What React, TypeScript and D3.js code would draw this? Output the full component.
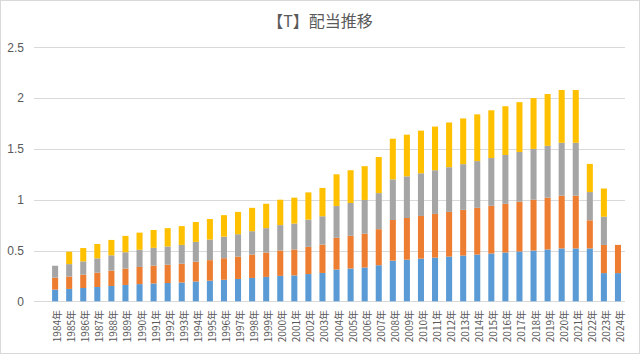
import React from "react";
import * as d3 from "d3";

const title = "【T】配当推移";
const years = [
  "1984年","1985年","1986年","1987年","1988年","1989年","1990年","1991年","1992年","1993年",
  "1994年","1995年","1996年","1997年","1998年","1999年","2000年","2001年","2002年","2003年",
  "2004年","2005年","2006年","2007年","2008年","2009年","2010年","2011年","2012年","2013年",
  "2014年","2015年","2016年","2017年","2018年","2019年","2020年","2021年","2022年","2023年","2024年",
];
// quarterly dividends (stacked: Q1 blue, Q2 orange, Q3 gray, Q4 yellow)
const q1 = [0.115,0.122,0.131,0.141,0.151,0.161,0.169,0.1755,0.18,0.185,0.195,0.2025,0.212,0.22,0.23,0.24,0.25,0.255,0.268,0.279,0.3125,0.3225,0.3325,0.355,0.40,0.41,0.42,0.43,0.44,0.45,0.46,0.47,0.48,0.49,0.50,0.51,0.52,0.52,0.52,0.2775,0.2775];
const q2 = [0.118,0.122,0.131,0.141,0.151,0.161,0.169,0.1755,0.18,0.185,0.195,0.2025,0.212,0.22,0.23,0.24,0.25,0.255,0.268,0.279,0.3125,0.3225,0.3325,0.355,0.40,0.41,0.42,0.43,0.44,0.45,0.46,0.47,0.48,0.49,0.50,0.51,0.52,0.52,0.2775,0.2775,0.2775];
const q3 = [0.117,0.122,0.131,0.141,0.151,0.161,0.169,0.1755,0.18,0.185,0.195,0.2025,0.212,0.22,0.23,0.24,0.25,0.255,0.268,0.279,0.3125,0.3225,0.3325,0.355,0.40,0.41,0.42,0.43,0.44,0.45,0.46,0.47,0.48,0.49,0.50,0.51,0.52,0.52,0.2775,0.2775,0];
const q4 = [0,0.122,0.131,0.141,0.151,0.161,0.169,0.1755,0.18,0.185,0.195,0.2025,0.212,0.22,0.23,0.24,0.25,0.255,0.268,0.279,0.3125,0.3225,0.3325,0.355,0.40,0.41,0.42,0.43,0.44,0.45,0.46,0.47,0.48,0.49,0.50,0.51,0.52,0.52,0.2775,0.2775,0];
const yTicks = [0, 0.5, 1, 1.5, 2, 2.5];
const seriesKeys = ["q1", "q2", "q3", "q4"];
const colors = ["#5B9BD5", "#ED7D31", "#A5A5A5", "#FFC000"];

export default function App() {
  const W = 641, H = 356;
  const left = 34, right = 625, top = 47.3, bottom = 301.3;
  const x = d3.scaleBand<string>()
    .domain(["", ...years])
    .range([left, right])
    .paddingInner(0.57)
    .paddingOuter(0.285);
  const y = d3.scaleLinear().domain([0, 2.5]).range([bottom, top]);
  const data = years.map((yr, i) => ({ year: yr, q1: q1[i], q2: q2[i], q3: q3[i], q4: q4[i] }));
  const stacked = d3.stack<any>().keys(seriesKeys)(data);
  const grey = "#595959";
  const cjk = "'Noto Sans CJK JP', 'Noto Sans', sans-serif";

  return (
    <svg width={W} height={H} style={{ position: "absolute", left: 0, top: 0, background: "#fff" }}>
      <rect x={0.5} y={0.5} width={639} height={353} fill="#fff" stroke="#d9d9d9" />
      <text x={320} y={27} textAnchor="middle" fontSize={16} fill={grey} fontFamily={cjk}>{title}</text>
      {yTicks.map((t) => (
        <g key={t}>
          <line x1={left} x2={right} y1={Math.round(y(t)) + 0.5} y2={Math.round(y(t)) + 0.5} stroke="#d9d9d9" strokeWidth={1} />
          <text x={24} y={y(t)} dy="0.35em" textAnchor="end" fontSize={12} fill={grey} fontFamily="'Liberation Sans', Arial, sans-serif">{String(t)}</text>
        </g>
      ))}
      {stacked.map((s, si) => (
        <g key={s.key} fill={colors[si]}>
          {s.map((d: any) => {
            const h = y(d[0]) - y(d[1]);
            if (h <= 0) return null;
            return <rect key={d.data.year} x={x(d.data.year)!} y={y(d[1])} width={x.bandwidth()} height={h} />;
          })}
        </g>
      ))}
      {years.map((yr) => {
        const cx = x(yr)! + x.bandwidth() / 2 + 1.5;
        return (
          <text key={yr} transform={`translate(${cx},310) rotate(-90)`} textAnchor="end" dominantBaseline="central" fontSize={10} fill={grey} fontFamily={cjk}>{yr}</text>
        );
      })}
    </svg>
  );
}
